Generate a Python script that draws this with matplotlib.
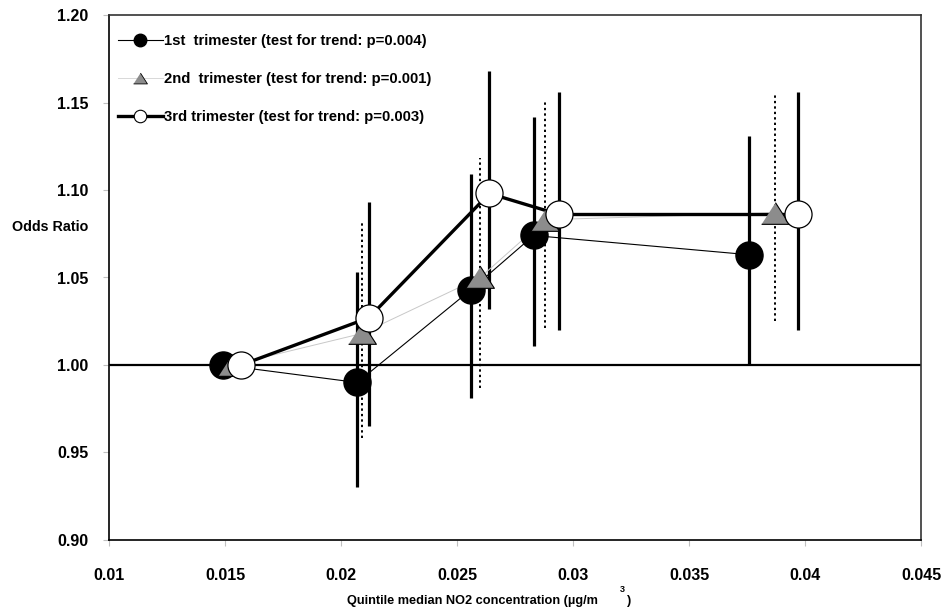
import numpy as np
import matplotlib
matplotlib.use("Agg")
import matplotlib.pyplot as plt
from matplotlib.lines import Line2D

plt.rcParams['font.family'] = ['Liberation Sans', 'DejaVu Sans']
plt.rcParams['font.weight'] = 'bold'

# quintile medians (x) and odds ratios with 95% CI, per trimester
x1 = [0.0149, 0.0207, 0.0256, 0.0283, 0.0376]
or1 = [1.000, 0.990, 1.043, 1.074, 1.063]
lo1 = [1.000, 0.930, 0.981, 1.011, 1.000]
hi1 = [1.000, 1.053, 1.109, 1.142, 1.131]

x2 = [0.0153, 0.0209, 0.0260, 0.0288, 0.0387]
or2 = [1.000, 1.018, 1.050, 1.083, 1.087]
lo2 = [1.000, 0.958, 0.987, 1.021, 1.025]
hi2 = [1.000, 1.082, 1.118, 1.151, 1.155]

x3 = [0.0157, 0.0212, 0.0264, 0.0294, 0.0397]
or3 = [1.000, 1.027, 1.098, 1.086, 1.086]
lo3 = [1.000, 0.965, 1.032, 1.020, 1.020]
hi3 = [1.000, 1.093, 1.168, 1.156, 1.156]

labels = ["1st  trimester (test for trend: p=0.004)",
          "2nd  trimester (test for trend: p=0.001)",
          "3rd trimester (test for trend: p=0.003)"]

xticks = [0.01, 0.015, 0.02, 0.025, 0.03, 0.035, 0.04, 0.045]
xticklabels = ["0.01", "0.015", "0.02", "0.025", "0.03", "0.035", "0.04", "0.045"]
yticks = [0.90, 0.95, 1.00, 1.05, 1.10, 1.15, 1.20]

tri = [(-1, -0.78), (1, -0.78), (0, 0.78)]

fig = plt.figure(figsize=(9.46, 6.15), dpi=100)
ax = fig.add_axes([109/946, 1-540/615, (921-109)/946, (540-15)/615])

ax.axhline(1.0, color='black', lw=1.6, zorder=1)

# confidence intervals
ax.vlines(x1, lo1, hi1, color='black', lw=2.3, zorder=2)
ax.vlines(x2, lo2, hi2, color='black', lw=1.4, linestyles=(0, (1.2, 1.6)), zorder=2)
ax.vlines(x3, lo3, hi3, color='black', lw=2.3, zorder=2)

# connecting lines
ax.plot(x1, or1, color='black', lw=0.8, zorder=3)
ax.plot(x2, or2, color='#c8c8c8', lw=0.7, zorder=3)
ax.plot(x3, or3, color='black', lw=2.4, zorder=3)

# markers
ax.plot(x1, or1, ls='none', marker='o', ms=19.5, mfc='black', mec='black', zorder=4)
ax.plot(x2, or2, ls='none', marker=tri, ms=20, mfc='#8c8c8c', mec='black', mew=0.8, zorder=5)
ax.plot(x3, or3, ls='none', marker='o', ms=19.5, mfc='white', mec='black', mew=0.9, zorder=6)

ax.set_xlim(0.01, 0.045)
ax.set_ylim(0.90, 1.20)
ax.set_xticks(xticks)
ax.set_xticklabels(xticklabels)
ax.set_yticks(yticks)
ax.set_yticklabels([f"{v:.2f}" for v in yticks])
ax.tick_params(axis='both', direction='out', length=4, color='#c0c0c0', labelsize=11.5)
ax.tick_params(axis='x', pad=16)
ax.tick_params(axis='y', pad=11)

for s in ['left', 'bottom']:
    ax.spines[s].set_linewidth(1.2)
    ax.spines[s].set_color('black')
for s in ['top', 'right']:
    ax.spines[s].set_linewidth(1.2)
    ax.spines[s].set_color('#333333')

handles = [
    Line2D([], [], color='black', lw=0.8, marker='o', ms=9, mfc='black', mec='black'),
    Line2D([], [], color='#d8d8d8', lw=0.7, marker=tri, ms=10, mfc='#8c8c8c', mec='black', mew=0.6),
    Line2D([], [], color='black', lw=2.4, marker='o', ms=9, mfc='white', mec='black', mew=0.8),
]
ax.legend(handles, labels, loc='upper left', bbox_to_anchor=(9/812, 1 - 19/525), frameon=False,
          fontsize=10.7, handlelength=3.0, handletextpad=0.1, labelspacing=1.62,
          borderaxespad=0, borderpad=0)

fig.text(88/946, 1-227/615, "Odds Ratio", ha='right', va='center', fontsize=10.3, fontweight='bold')
fig.text(598/946, 1-601/615, "Quintile median NO2 concentration (\u00b5g/m", ha='right', va='center',
         fontsize=9.2, fontweight='bold')
fig.text(622/946, 1-590/615, "3", ha='center', va='center', fontsize=6.5, fontweight='bold')
fig.text(627/946, 1-601/615, ")", ha='left', va='center', fontsize=9.2, fontweight='bold')

fig.savefig("out.png", dpi=100)
